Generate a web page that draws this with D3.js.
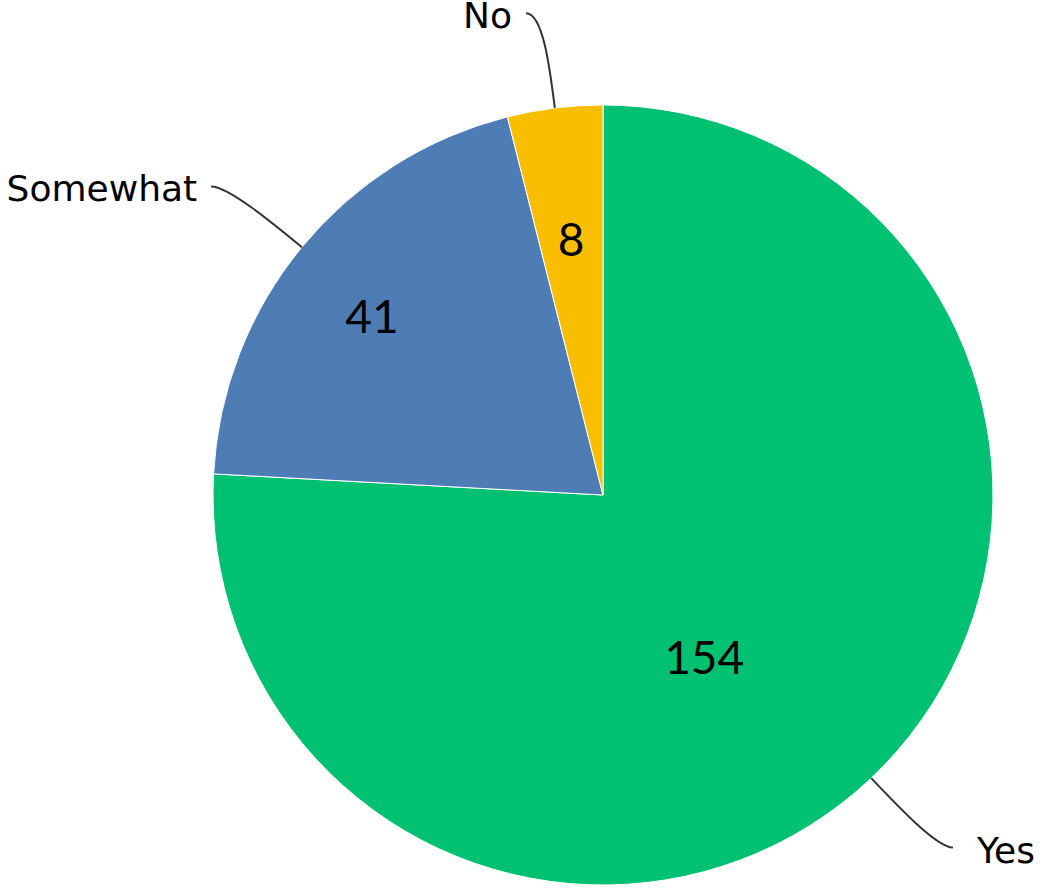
<!DOCTYPE html>
<html>
<head>
<meta charset="utf-8">
<script src="https://cdn.jsdelivr.net/npm/d3@7"></script>
<style>
  body { margin: 0; background: #fff; }
  .cat { font-family: "DejaVu Sans", sans-serif; font-size: 36px; fill: #000; }
  .val { font-family: Lato, sans-serif; font-size: 46px; fill: #000; }
</style>
</head>
<body>
<div id="chart"></div>
<script>
// survey answers
var categories = ["Yes", "Somewhat", "No"];
var counts = [154, 41, 8];
var colors = ["#00c072", "#4e7cb5", "#f9be00"];

var width = 1043, height = 890;
var cx = 603, cy = 495, radius = 390;

// where the number sits inside each slice: fraction of the sweep, fraction of the radius
var valuePlace = [[0.542, 0.49], [0.475, 0.748], [0.5, 0.66]];

var data = categories.map(function(c, i) { return {name: c, value: counts[i], color: colors[i]}; });

var svg = d3.select("#chart")
  .append("svg")
    .attr("width", width)
    .attr("height", height);

var g = svg.append("g")
    .attr("transform", "translate(" + cx + "," + cy + ")");

var pie = d3.pie()
    .sort(null)
    .value(function(d) { return d.value; });

var arc = d3.arc().innerRadius(0).outerRadius(radius);

var arcs = pie(data);

g.selectAll(".slice")
    .data(arcs)
  .enter().append("path")
    .attr("class", "slice")
    .attr("d", arc)
    .attr("fill", function(d) { return d.data.color; })
    .attr("stroke", "#fff")
    .attr("stroke-width", 1);

function pt(a, r) { return [Math.sin(a) * r, -Math.cos(a) * r]; }

// numbers
g.selectAll(".val")
    .data(arcs)
  .enter().append("text")
    .attr("class", "val")
    .attr("text-anchor", "middle")
    .attr("dy", "0.36em")
    .attr("transform", function(d, i) {
      var a = d.startAngle + (d.endAngle - d.startAngle) * valuePlace[i][0];
      var p = pt(a, radius * valuePlace[i][1]);
      return "translate(" + p + ")";
    })
    .text(function(d) { return d.value; });

// leader lines + category labels
arcs.forEach(function(d) {
  var mid = (d.startAngle + d.endAngle) / 2;
  var p0 = pt(mid, radius);
  var elbow = pt(mid, radius * 1.245);
  var right = elbow[0] > 0;
  var end = [elbow[0] + (right ? 16 : -17), elbow[1]];
  var dir = pt(mid, 1);
  var c1 = [p0[0] + dir[0] * 40, p0[1] + dir[1] * 40];
  var path = d3.path();
  path.moveTo(p0[0], p0[1]);
  path.bezierCurveTo(c1[0], c1[1], elbow[0], elbow[1], end[0], end[1]);

  g.append("path")
    .attr("d", path.toString())
    .attr("fill", "none")
    .attr("stroke", "#333")
    .attr("stroke-width", 2);

  g.append("text")
    .attr("class", "cat")
    .attr("x", end[0] + (right ? 24 : -14))
    .attr("y", end[1])
    .attr("dy", 15)
    .attr("text-anchor", right ? "start" : "end")
    .text(d.data.name);
});
</script>
</body>
</html>
